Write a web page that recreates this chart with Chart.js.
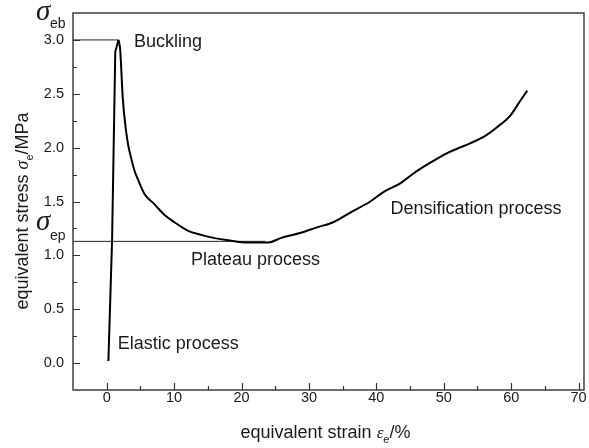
<!DOCTYPE html>
<html>
<head>
<meta charset="utf-8">
<style>
  html, body { margin: 0; padding: 0; background: #ffffff; }
  #wrap { width: 589px; height: 448px; }
</style>
<script src="https://cdn.jsdelivr.net/npm/chart.js@4.4.1/dist/chart.umd.min.js"></script>
</head>
<body>
<div id="wrap"><canvas id="c" width="589" height="448"></canvas></div>
<script>
// Equivalent stress–strain curve of the cellular structure (strain in %, stress in MPa)
const strain = [0.25, 0.8, 1.27, 1.75, 2.0, 2.12, 2.37, 2.86, 3.2, 3.6, 4.1, 4.6, 5.6, 7.0, 8.5, 10.0,
                12.0, 14.0, 16.0, 18.0, 21.0, 24.0, 25.8, 28.8, 31.2, 33.7, 36.2, 39.1, 41.1,
                43.6, 45.5, 48.0, 50.5, 52.0, 53.9, 55.9, 57.9, 59.9, 61.4, 62.4];
const stress = [0.02, 1.15, 2.89, 3.0, 2.91, 2.78, 2.47, 2.16, 2.02, 1.91, 1.79, 1.71, 1.57, 1.48, 1.38, 1.31,
                1.23, 1.19, 1.16, 1.14, 1.12, 1.12, 1.16, 1.21, 1.26, 1.31, 1.40, 1.50, 1.59,
                1.67, 1.76, 1.86, 1.95, 1.99, 2.04, 2.10, 2.19, 2.30, 2.44, 2.53];

// Characteristic stresses: buckling peak and plateau level
const bucklingStress = 3.0;
const bucklingStrain = 1.75;
const plateauStress = 1.13;
const plateauEndStrain = 23.5;

// Axis ranges and tick values
const xRange = [-5, 70.8];
const yRange = [-0.25, 3.25];
const xTicks = [0, 10, 20, 30, 40, 50, 60, 70];
const xMinorTicks = [5, 15, 25, 35, 45, 55, 65];
const yTicks = [0.0, 0.5, 1.0, 1.5, 2.0, 2.5, 3.0];
const yMinorTicks = [0.25, 0.75, 1.25, 1.75, 2.25, 2.75];

const SANS = '"Liberation Sans", Arial, sans-serif';
const SERIF = '"Liberation Serif", "Times New Roman", serif';
const INK = '#1a1a1a';

const curvePoints = strain.map((s, i) => ({ x: s, y: stress[i] }));
// elastic rise up to the buckling peak is straight; the post-buckling branch is smooth
const peakIndex = stress.indexOf(Math.max(...stress));
const elasticBranch = curvePoints.slice(0, peakIndex + 1);
const postBucklingBranch = curvePoints.slice(peakIndex);
const bucklingLine = [{ x: xRange[0], y: bucklingStress }, { x: bucklingStrain, y: bucklingStress }];
const plateauLine = [{ x: xRange[0], y: plateauStress }, { x: plateauEndStrain, y: plateauStress }];

// Draws a sequence of text runs (mixed fonts, sub/superscript offsets) starting at x,y
function drawRuns(ctx, runs, x, y, align) {
  let total = 0;
  runs.forEach(r => { ctx.font = r.font; r.w = ctx.measureText(r.t).width; total += r.w; });
  let cx = align === 'center' ? x - total / 2 : x;
  runs.forEach(r => {
    ctx.font = r.font;
    ctx.fillText(r.t, cx, y + (r.dy || 0));
    cx += r.w;
  });
}

const decorations = {
  id: 'decorations',
  afterDraw(chart) {
    const { ctx, chartArea: a, scales } = chart;
    const xs = scales.x, ys = scales.y;
    ctx.save();

    // frame
    ctx.strokeStyle = '#333';
    ctx.lineWidth = 1.4;
    ctx.strokeRect(a.left, a.top, a.right - a.left, a.bottom - a.top);

    // inward tick marks
    ctx.lineWidth = 1.2;
    ctx.beginPath();
    xTicks.forEach(v => { const p = Math.round(xs.getPixelForValue(v)) + 0.5; ctx.moveTo(p, a.bottom); ctx.lineTo(p, a.bottom - 7); });
    xMinorTicks.forEach(v => { const p = Math.round(xs.getPixelForValue(v)) + 0.5; ctx.moveTo(p, a.bottom); ctx.lineTo(p, a.bottom - 4); });
    yTicks.forEach(v => { const p = Math.round(ys.getPixelForValue(v)) + 0.5; ctx.moveTo(a.left, p); ctx.lineTo(a.left + 7, p); });
    yMinorTicks.forEach(v => { const p = Math.round(ys.getPixelForValue(v)) + 0.5; ctx.moveTo(a.left, p); ctx.lineTo(a.left + 4, p); });
    ctx.stroke();

    ctx.fillStyle = INK;
    ctx.textBaseline = 'alphabetic';
    ctx.textAlign = 'left';

    // stage annotations
    const notes = [
      { t: 'Buckling', x: 4.04, y: 2.935 },
      { t: 'Plateau process', x: 12.5, y: 0.908 },
      { t: 'Densification process', x: 42.1, y: 1.383 },
      { t: 'Elastic process', x: 1.63, y: 0.134 }
    ];
    ctx.font = '18px ' + SANS;
    notes.forEach(n => ctx.fillText(n.t, xs.getPixelForValue(n.x), ys.getPixelForValue(n.y)));

    // characteristic stress symbols beside the reference lines
    const yb = ys.getPixelForValue(bucklingStress);
    const yp = ys.getPixelForValue(plateauStress);
    drawRuns(ctx, [{ t: 'σ', font: 'italic 29px ' + SERIF }], 36, yb - 20, 'left');
    drawRuns(ctx, [{ t: 'eb', font: '14px ' + SANS }], 50, yb - 12, 'left');
    drawRuns(ctx, [{ t: 'σ', font: 'italic 29px ' + SERIF }], 36, yp - 11, 'left');
    drawRuns(ctx, [{ t: 'ep', font: '14px ' + SANS }], 50, yp - 1, 'left');

    // axis titles
    drawRuns(ctx, [
      { t: 'equivalent strain ', font: '18px ' + SANS },
      { t: 'ε', font: 'italic 17px ' + SERIF },
      { t: 'e', font: '11px ' + SANS, dy: 5 },
      { t: '/%', font: '18px ' + SANS }
    ], (a.left + a.right) / 2 - 3, 438, 'center');

    ctx.translate(28, 211);
    ctx.rotate(-Math.PI / 2);
    drawRuns(ctx, [
      { t: 'equivalent stress ', font: '18px ' + SANS },
      { t: 'σ', font: 'italic 18px ' + SERIF },
      { t: 'e', font: '11px ' + SANS, dy: 5 },
      { t: '/MPa', font: '18px ' + SANS }
    ], 0, 0, 'center');

    ctx.restore();
  }
};

new Chart(document.getElementById('c'), {
  type: 'scatter',
  data: {
    datasets: [
      { data: elasticBranch, showLine: true, borderColor: '#000', borderWidth: 2, pointRadius: 0,
        tension: 0, borderJoinStyle: 'miter' },
      { data: postBucklingBranch, showLine: true, borderColor: '#000', borderWidth: 2, pointRadius: 0,
        cubicInterpolationMode: 'monotone' },
      { data: bucklingLine, showLine: true, borderColor: '#222', borderWidth: 1, pointRadius: 0 },
      { data: plateauLine, showLine: true, borderColor: '#222', borderWidth: 1, pointRadius: 0 }
    ]
  },
  options: {
    responsive: false,
    animation: false,
    devicePixelRatio: 1,
    layout: { padding: { top: 13, right: 5, left: 0, bottom: 0 } },
    plugins: { legend: { display: false }, tooltip: { enabled: false } },
    scales: {
      x: {
        type: 'linear',
        min: xRange[0], max: xRange[1],
        grid: { display: false, drawTicks: false },
        border: { display: false },
        afterBuildTicks: s => { s.ticks = xTicks.map(v => ({ value: v })); },
        afterFit: s => { s.height = 58; s.paddingLeft = 0; s.paddingRight = 0; },
        ticks: {
          color: INK, padding: 1, maxRotation: 0, autoSkip: false,
          font: { family: SANS, size: 14.5, lineHeight: 1 },
          callback: v => String(v)
        }
      },
      y: {
        type: 'linear',
        min: yRange[0], max: yRange[1],
        grid: { display: false, drawTicks: false },
        border: { display: false },
        afterBuildTicks: s => { s.ticks = yTicks.map(v => ({ value: v })); },
        afterFit: s => { s.width = 73; s.paddingTop = 0; s.paddingBottom = 0; },
        ticks: {
          color: INK, padding: 9, autoSkip: false,
          font: { family: SANS, size: 14.5 },
          callback: v => Number(v).toFixed(1)
        }
      }
    }
  },
  plugins: [decorations]
});
</script>
</body>
</html>
